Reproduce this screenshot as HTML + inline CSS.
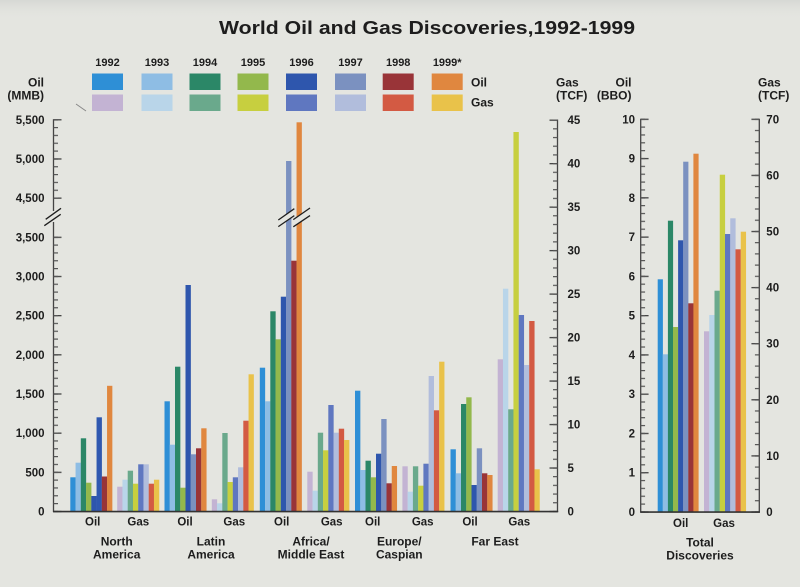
<!DOCTYPE html>
<html><head><meta charset="utf-8"><style>
html,body{margin:0;padding:0;background:#e4e5e0;}
svg{display:block;}
text{font-family:"Liberation Sans",Arial,sans-serif;font-weight:bold;fill:#1d1d1d;}
</style></head><body>
<svg width="800" height="587" viewBox="0 0 800 587" xmlns="http://www.w3.org/2000/svg">
<defs>
<linearGradient id="topg" x1="0" y1="0" x2="0" y2="1">
<stop offset="0" stop-color="#d6d8d4"/><stop offset="1" stop-color="#e4e5e0" stop-opacity="0"/>
</linearGradient>
<pattern id="mjL" patternUnits="userSpaceOnUse" x="53.5" y="510.85" width="20" height="39.17"><rect x="0" y="0" width="8" height="1.3" fill="#444"/></pattern>
<pattern id="mnL" patternUnits="userSpaceOnUse" x="53.5" y="510.85" width="20" height="7.834"><rect x="0" y="0" width="4.5" height="1.2" fill="#555"/></pattern>
<pattern id="mjR" patternUnits="userSpaceOnUse" x="549.5" y="510.85" width="20" height="43.48"><rect x="0" y="0" width="8" height="1.3" fill="#444"/></pattern>
<pattern id="mnR" patternUnits="userSpaceOnUse" x="553" y="510.85" width="20" height="8.696"><rect x="0" y="0" width="4.5" height="1.2" fill="#555"/></pattern>
<pattern id="mjL2" patternUnits="userSpaceOnUse" x="640.7" y="511.35" width="20" height="39.27"><rect x="0" y="0" width="8" height="1.3" fill="#444"/></pattern>
<pattern id="mnL2" patternUnits="userSpaceOnUse" x="640.7" y="511.35" width="20" height="7.854"><rect x="0" y="0" width="4.5" height="1.2" fill="#555"/></pattern>
<pattern id="mjR2" patternUnits="userSpaceOnUse" x="751.3" y="511.35" width="20" height="56.1"><rect x="0" y="0" width="8" height="1.3" fill="#444"/></pattern>
<pattern id="mnR2" patternUnits="userSpaceOnUse" x="754.8" y="511.35" width="20" height="11.22"><rect x="0" y="0" width="4.5" height="1.2" fill="#555"/></pattern>
</defs>
<rect x="0" y="0" width="800" height="587" fill="#e4e5e0"/>
<rect x="0" y="0" width="800" height="20" fill="url(#topg)"/>

<!-- Title -->
<text x="219" y="34" font-size="18" textLength="416" lengthAdjust="spacingAndGlyphs">World Oil and Gas Discoveries,1992-1999</text>

<!-- Legend years -->
<g font-size="11" text-anchor="middle">
<text x="107.5" y="66">1992</text>
<text x="157" y="66">1993</text>
<text x="205" y="66">1994</text>
<text x="253" y="66">1995</text>
<text x="301.5" y="66">1996</text>
<text x="350.5" y="66">1997</text>
<text x="398.2" y="66">1998</text>
<text x="447.2" y="66">1999*</text>
</g>
<!-- Legend swatches -->
<g>
<rect x="92" y="73.5" width="31" height="16.5" fill="#2e8fd6"/>
<rect x="141.5" y="73.5" width="31" height="16.5" fill="#8ebde4"/>
<rect x="189.5" y="73.5" width="31" height="16.5" fill="#2b8767"/>
<rect x="237.5" y="73.5" width="31" height="16.5" fill="#93b84c"/>
<rect x="286" y="73.5" width="31" height="16.5" fill="#2e56ad"/>
<rect x="335" y="73.5" width="31" height="16.5" fill="#7b91c0"/>
<rect x="382.7" y="73.5" width="31" height="16.5" fill="#993438"/>
<rect x="431.7" y="73.5" width="31" height="16.5" fill="#e0873f"/>
<rect x="92" y="94.5" width="31" height="16.5" fill="#c3b3d3"/>
<rect x="141.5" y="94.5" width="31" height="16.5" fill="#b9d5e9"/>
<rect x="189.5" y="94.5" width="31" height="16.5" fill="#6aa98c"/>
<rect x="237.5" y="94.5" width="31" height="16.5" fill="#c7cf3f"/>
<rect x="286" y="94.5" width="31" height="16.5" fill="#5f77c0"/>
<rect x="335" y="94.5" width="31" height="16.5" fill="#b1bddc"/>
<rect x="382.7" y="94.5" width="31" height="16.5" fill="#d35a43"/>
<rect x="431.7" y="94.5" width="31" height="16.5" fill="#e9c24a"/>
</g>
<g font-size="12">
<text x="471" y="86.5">Oil</text>
<text x="471" y="106.5">Gas</text>
</g>
<line x1="76" y1="104" x2="86" y2="111" stroke="#888" stroke-width="1"/>

<!-- Axis titles -->
<g font-size="12">
<text x="44" y="86.7" text-anchor="end">Oil</text>
<text x="44" y="99.5" text-anchor="end">(MMB)</text>
<text x="556" y="86.7">Gas</text>
<text x="556" y="99.5">(TCF)</text>
<text x="631.5" y="86.7" text-anchor="end">Oil</text>
<text x="631.5" y="99.5" text-anchor="end">(BBO)</text>
<text x="758" y="86.7">Gas</text>
<text x="758" y="99.5">(TCF)</text>
</g>

<!-- Main chart bars -->
<g>
<!-- North America Oil -->
<g transform="translate(70.3,0)">
<rect x="0" y="477.3" width="5.35" height="34.2" fill="#2e8fd6"/>
<rect x="5.25" y="462.7" width="5.35" height="48.8" fill="#8ebde4"/>
<rect x="10.5" y="438.3" width="5.35" height="73.2" fill="#2b8767"/>
<rect x="15.75" y="482.7" width="5.35" height="28.8" fill="#93b84c"/>
<rect x="21" y="496" width="5.35" height="15.5" fill="#2e56ad"/>
<rect x="26.25" y="417.3" width="5.35" height="94.2" fill="#2f58b0"/>
<rect x="31.5" y="476.5" width="5.35" height="35" fill="#993438"/>
<rect x="36.75" y="385.8" width="5.3" height="125.7" fill="#e0873f"/>
</g>
<!-- North America Gas -->
<g transform="translate(117.2,0)">
<rect x="0" y="486.7" width="5.35" height="24.8" fill="#c3b3d3"/>
<rect x="5.25" y="479.7" width="5.35" height="31.8" fill="#b9d5e9"/>
<rect x="10.5" y="470.7" width="5.35" height="40.8" fill="#6aa98c"/>
<rect x="15.75" y="483.7" width="5.35" height="27.8" fill="#c7cf3f"/>
<rect x="21" y="464.3" width="5.35" height="47.2" fill="#5f77c0"/>
<rect x="26.25" y="464.3" width="5.35" height="47.2" fill="#b1bddc"/>
<rect x="31.5" y="483.7" width="5.35" height="27.8" fill="#d35a43"/>
<rect x="36.75" y="479.7" width="5.3" height="31.8" fill="#e9c24a"/>
</g>
<!-- Latin America Oil -->
<g transform="translate(164.5,0)">
<rect x="0" y="401.3" width="5.35" height="110.2" fill="#2e8fd6"/>
<rect x="5.25" y="444.7" width="5.35" height="66.8" fill="#8ebde4"/>
<rect x="10.5" y="366.7" width="5.35" height="144.8" fill="#2b8767"/>
<rect x="15.75" y="487.7" width="5.35" height="23.8" fill="#93b84c"/>
<rect x="21" y="285" width="5.35" height="226.5" fill="#2e56ad"/>
<rect x="26.25" y="454.3" width="5.35" height="57.2" fill="#7b91c0"/>
<rect x="31.5" y="448.3" width="5.35" height="63.2" fill="#993438"/>
<rect x="36.75" y="428.3" width="5.3" height="83.2" fill="#e0873f"/>
</g>
<!-- Latin America Gas -->
<g transform="translate(211.8,0)">
<rect x="0" y="499.3" width="5.35" height="12.2" fill="#c3b3d3"/>
<rect x="5.25" y="503.3" width="5.35" height="8.2" fill="#b9d5e9"/>
<rect x="10.5" y="433" width="5.35" height="78.5" fill="#6aa98c"/>
<rect x="15.75" y="482" width="5.35" height="29.5" fill="#c7cf3f"/>
<rect x="21" y="477.3" width="5.35" height="34.2" fill="#5f77c0"/>
<rect x="26.25" y="467.3" width="5.35" height="44.2" fill="#b1bddc"/>
<rect x="31.5" y="420.7" width="5.35" height="90.8" fill="#d35a43"/>
<rect x="36.75" y="374.3" width="5.3" height="137.2" fill="#e9c24a"/>
</g>
<!-- Africa/Middle East Oil -->
<g transform="translate(259.8,0)">
<rect x="0" y="367.7" width="5.35" height="143.8" fill="#2e8fd6"/>
<rect x="5.25" y="401.3" width="5.35" height="110.2" fill="#8ebde4"/>
<rect x="10.5" y="311.3" width="5.35" height="200.2" fill="#2b8767"/>
<rect x="15.75" y="339.3" width="5.35" height="172.2" fill="#93b84c"/>
<rect x="21" y="296.7" width="5.35" height="214.8" fill="#2e56ad"/>
<rect x="26.25" y="161" width="5.35" height="350.5" fill="#7b91c0"/>
<rect x="31.5" y="260.7" width="5.35" height="250.8" fill="#993438"/>
<rect x="36.75" y="122.3" width="5.3" height="389.2" fill="#e0873f"/>
</g>
<!-- Africa/Middle East Gas -->
<g transform="translate(307.3,0)">
<rect x="0" y="471.7" width="5.35" height="39.8" fill="#c3b3d3"/>
<rect x="5.25" y="490.7" width="5.35" height="20.8" fill="#b9d5e9"/>
<rect x="10.5" y="432.7" width="5.35" height="78.8" fill="#6aa98c"/>
<rect x="15.75" y="450.3" width="5.35" height="61.2" fill="#c7cf3f"/>
<rect x="21" y="405" width="5.35" height="106.5" fill="#5f77c0"/>
<rect x="26.25" y="432.7" width="5.35" height="78.8" fill="#b1bddc"/>
<rect x="31.5" y="428.7" width="5.35" height="82.8" fill="#d35a43"/>
<rect x="36.75" y="440" width="5.3" height="71.5" fill="#e9c24a"/>
</g>
<!-- Europe/Caspian Oil -->
<g transform="translate(355,0)">
<rect x="0" y="390.7" width="5.35" height="120.8" fill="#2e8fd6"/>
<rect x="5.25" y="470" width="5.35" height="41.5" fill="#8ebde4"/>
<rect x="10.5" y="460.7" width="5.35" height="50.8" fill="#2b8767"/>
<rect x="15.75" y="477.3" width="5.35" height="34.2" fill="#93b84c"/>
<rect x="21" y="453.7" width="5.35" height="57.8" fill="#2e56ad"/>
<rect x="26.25" y="419" width="5.35" height="92.5" fill="#7b91c0"/>
<rect x="31.5" y="483.3" width="5.35" height="28.2" fill="#993438"/>
<rect x="36.75" y="466" width="5.3" height="45.5" fill="#e0873f"/>
</g>
<!-- Europe/Caspian Gas -->
<g transform="translate(402.4,0)">
<rect x="0" y="466.3" width="5.35" height="45.2" fill="#c3b3d3"/>
<rect x="5.25" y="491.7" width="5.35" height="19.8" fill="#b9d5e9"/>
<rect x="10.5" y="466.3" width="5.35" height="45.2" fill="#6aa98c"/>
<rect x="15.75" y="485.7" width="5.35" height="25.8" fill="#c7cf3f"/>
<rect x="21" y="463.7" width="5.35" height="47.8" fill="#5f77c0"/>
<rect x="26.25" y="376" width="5.35" height="135.5" fill="#b1bddc"/>
<rect x="31.5" y="410.3" width="5.35" height="101.2" fill="#d35a43"/>
<rect x="36.75" y="361.7" width="5.3" height="149.8" fill="#e9c24a"/>
</g>
<!-- Far East Oil -->
<g transform="translate(450.5,0)">
<rect x="0" y="449.3" width="5.35" height="62.2" fill="#2e8fd6"/>
<rect x="5.25" y="473.3" width="5.35" height="38.2" fill="#8ebde4"/>
<rect x="10.5" y="404" width="5.35" height="107.5" fill="#2b8767"/>
<rect x="15.75" y="397.3" width="5.35" height="114.2" fill="#93b84c"/>
<rect x="21" y="485" width="5.35" height="26.5" fill="#2e56ad"/>
<rect x="26.25" y="448.3" width="5.35" height="63.2" fill="#7b91c0"/>
<rect x="31.5" y="473.3" width="5.35" height="38.2" fill="#993438"/>
<rect x="36.75" y="475" width="5.3" height="36.5" fill="#e0873f"/>
</g>
<!-- Far East Gas -->
<g transform="translate(497.7,0)">
<rect x="0" y="359.3" width="5.35" height="152.2" fill="#c3b3d3"/>
<rect x="5.25" y="288.7" width="5.35" height="222.8" fill="#b9d5e9"/>
<rect x="10.5" y="409.3" width="5.35" height="102.2" fill="#6aa98c"/>
<rect x="15.75" y="132" width="5.35" height="379.5" fill="#c7cf3f"/>
<rect x="21" y="315" width="5.35" height="196.5" fill="#5f77c0"/>
<rect x="26.25" y="365" width="5.35" height="146.5" fill="#b1bddc"/>
<rect x="31.5" y="321" width="5.35" height="190.5" fill="#d35a43"/>
<rect x="36.75" y="469.3" width="5.3" height="42.2" fill="#e9c24a"/>
</g>
</g>

<!-- Break marks on Africa oil bars -->
<polygon points="278.3,220 294.3,208.7 294.3,215.6 278.3,226.6" fill="#e4e5e0"/>
<polygon points="293.3,219.6 310,208 310,215.6 293.3,226.8" fill="#e4e5e0"/>
<g stroke="#1e1e1e" stroke-width="1.3">
<line x1="278.3" y1="220" x2="294.3" y2="208.7"/>
<line x1="278.3" y1="226.6" x2="294.3" y2="215.6"/>
<line x1="293.3" y1="219.6" x2="310" y2="208"/>
<line x1="293.3" y1="226.8" x2="310" y2="215.6"/>
</g>

<!-- Main left axis -->
<g stroke="#444" stroke-width="1.3">
<line x1="53.5" y1="119.2" x2="53.5" y2="211"/>
<line x1="53.5" y1="222" x2="53.5" y2="512"/>
</g>
<rect x="53.5" y="236" width="8" height="276.5" fill="url(#mjL)"/>
<rect x="53.5" y="119" width="8" height="80" fill="url(#mjL)"/>
<rect x="53.5" y="236" width="4.5" height="276.5" fill="url(#mnL)"/>
<rect x="53.5" y="119" width="4.5" height="80" fill="url(#mnL)"/>
<polygon points="45.7,219.3 61,208.3 60.7,214.3 44.3,225.7" fill="#e4e5e0"/>
<g stroke="#1e1e1e" stroke-width="1.3">
<line x1="45.7" y1="219.3" x2="61" y2="208.3"/>
<line x1="44.3" y1="225.7" x2="60.7" y2="214.3"/>
</g>

<!-- Main right axis -->
<line x1="557.5" y1="119.5" x2="557.5" y2="512" stroke="#444" stroke-width="1.3"/>
<rect x="549.5" y="119" width="8" height="393.5" fill="url(#mjR)"/>
<rect x="553" y="119" width="4.5" height="393.5" fill="url(#mnR)"/>

<!-- Main baseline -->
<line x1="53" y1="511.6" x2="558.2" y2="511.6" stroke="#333" stroke-width="1.6"/>

<!-- Main axis labels -->
<g font-size="11.5" text-anchor="end">
<text x="44.5" y="123.8">5,500</text>
<text x="44.5" y="162.9">5,000</text>
<text x="44.5" y="202.1">4,500</text>
<text x="44.5" y="241.3">3,500</text>
<text x="44.5" y="280.5">3,000</text>
<text x="44.5" y="319.7">2,500</text>
<text x="44.5" y="358.8">2,000</text>
<text x="44.5" y="398">1,500</text>
<text x="44.5" y="437.2">1,000</text>
<text x="44.5" y="476.3">500</text>
<text x="44.5" y="515.5">0</text>
</g>
<g font-size="11.5">
<text x="567.5" y="124.2">45</text>
<text x="567.5" y="167.7">40</text>
<text x="567.5" y="211.1">35</text>
<text x="567.5" y="254.6">30</text>
<text x="567.5" y="298.1">25</text>
<text x="567.5" y="341.6">20</text>
<text x="567.5" y="385">15</text>
<text x="567.5" y="428.5">10</text>
<text x="567.5" y="472">5</text>
<text x="567.5" y="515.5">0</text>
</g>

<!-- Category labels -->
<g font-size="11.5" text-anchor="middle">
<text x="92.7" y="525.7">Oil</text>
<text x="138.3" y="525.7">Gas</text>
<text x="185" y="525.7">Oil</text>
<text x="234.3" y="525.7">Gas</text>
<text x="281.7" y="525.7">Oil</text>
<text x="331.7" y="525.7">Gas</text>
<text x="372.7" y="525.7">Oil</text>
<text x="422.7" y="525.7">Gas</text>
<text x="470" y="525.7">Oil</text>
<text x="519.3" y="525.7">Gas</text>
</g>
<g font-size="12" text-anchor="middle">
<text x="116.7" y="545.7">North</text>
<text x="116.7" y="558.5">America</text>
<text x="211" y="545.7">Latin</text>
<text x="211" y="558.5">America</text>
<text x="311" y="545.7">Africa/</text>
<text x="311" y="558.5">Middle East</text>
<text x="399.3" y="545.7">Europe/</text>
<text x="399.3" y="558.5">Caspian</text>
<text x="495" y="545.7">Far East</text>
</g>

<!-- Right chart bars -->
<g transform="translate(657.7,0)">
<rect x="0" y="279.3" width="5.2" height="232.7" fill="#2e8fd6"/>
<rect x="5.1" y="354.3" width="5.2" height="157.7" fill="#8ebde4"/>
<rect x="10.2" y="220.7" width="5.2" height="291.3" fill="#2b8767"/>
<rect x="15.3" y="327" width="5.2" height="185" fill="#93b84c"/>
<rect x="20.4" y="240.3" width="5.2" height="271.7" fill="#2e56ad"/>
<rect x="25.5" y="161.7" width="5.2" height="350.3" fill="#7b91c0"/>
<rect x="30.6" y="303.3" width="5.2" height="208.7" fill="#993438"/>
<rect x="35.7" y="153.7" width="5.2" height="358.3" fill="#e0873f"/>
</g>
<g transform="translate(704,0)">
<rect x="0" y="331.3" width="5.35" height="180.7" fill="#c3b3d3"/>
<rect x="5.25" y="315" width="5.35" height="197" fill="#b9d5e9"/>
<rect x="10.5" y="290.7" width="5.35" height="221.3" fill="#6aa98c"/>
<rect x="15.75" y="174.7" width="5.35" height="337.3" fill="#c7cf3f"/>
<rect x="21" y="234" width="5.35" height="278" fill="#5f77c0"/>
<rect x="26.25" y="218.3" width="5.35" height="293.7" fill="#b1bddc"/>
<rect x="31.5" y="249.3" width="5.35" height="262.7" fill="#d35a43"/>
<rect x="36.75" y="231.7" width="5.3" height="280.3" fill="#e9c24a"/>
</g>

<!-- Right chart axes -->
<line x1="640.7" y1="118.7" x2="640.7" y2="512.5" stroke="#444" stroke-width="1.3"/>
<rect x="640.7" y="118.5" width="8" height="394.5" fill="url(#mjL2)"/>
<rect x="640.7" y="118.5" width="4.5" height="394.5" fill="url(#mnL2)"/>
<line x1="759.3" y1="118.7" x2="759.3" y2="512.5" stroke="#444" stroke-width="1.3"/>
<rect x="751.3" y="118.5" width="8" height="394.5" fill="url(#mjR2)"/>
<rect x="754.8" y="118.5" width="4.5" height="394.5" fill="url(#mnR2)"/>
<line x1="640.2" y1="512.1" x2="760" y2="512.1" stroke="#333" stroke-width="1.6"/>

<g font-size="11.5" text-anchor="end">
<text x="635" y="123.3">10</text>
<text x="635" y="162.6">9</text>
<text x="635" y="201.8">8</text>
<text x="635" y="241.1">7</text>
<text x="635" y="280.4">6</text>
<text x="635" y="319.7">5</text>
<text x="635" y="358.9">4</text>
<text x="635" y="398.2">3</text>
<text x="635" y="437.5">2</text>
<text x="635" y="476.7">1</text>
<text x="635" y="516">0</text>
</g>
<g font-size="11.5">
<text x="766.3" y="123.3">70</text>
<text x="766.3" y="179.4">60</text>
<text x="766.3" y="235.5">50</text>
<text x="766.3" y="291.6">40</text>
<text x="766.3" y="347.7">30</text>
<text x="766.3" y="403.8">20</text>
<text x="766.3" y="459.9">10</text>
<text x="766.3" y="516">0</text>
</g>
<g font-size="11.5" text-anchor="middle">
<text x="680.7" y="527">Oil</text>
<text x="724" y="527">Gas</text>
</g>
<g font-size="12" text-anchor="middle">
<text x="700" y="546.5">Total</text>
<text x="700" y="559.5">Discoveries</text>
</g>
</svg>
</body></html>
